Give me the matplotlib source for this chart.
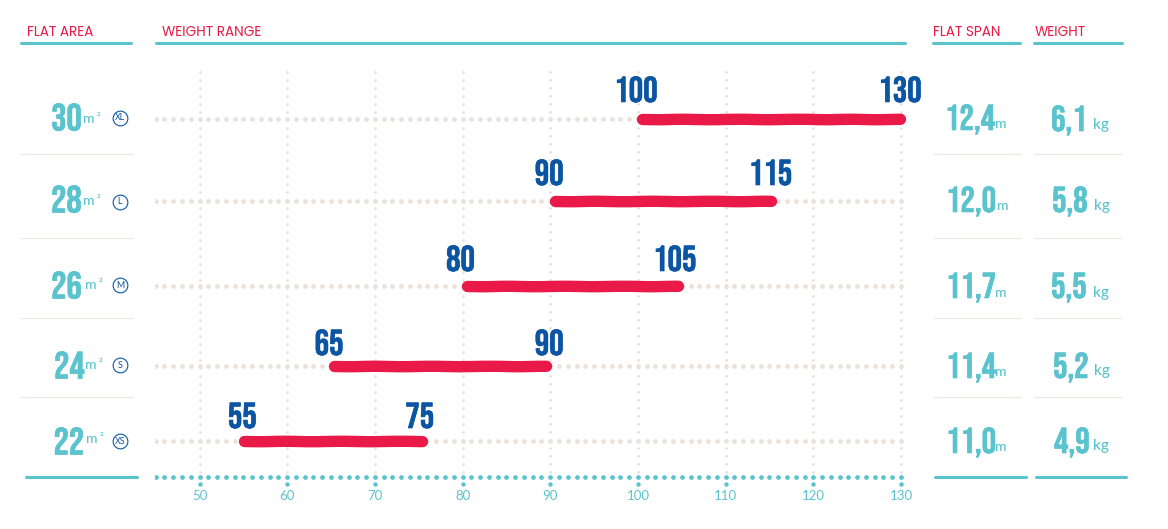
import matplotlib
matplotlib.use("Agg")
import matplotlib.pyplot as plt
import matplotlib.patheffects as pe

# ---- data ----
areas = ["30", "28", "26", "24", "22"]
sizes = ["XL", "L", "M", "S", "XS"]
range_low = [100, 90, 80, 65, 55]
range_high = [130, 115, 105, 90, 75]
spans = ["12,4", "12,0", "11,7", "11,4", "11,0"]
weights = ["6,1", "5,8", "5,5", "5,2", "4,9"]
tick_values = [50, 60, 70, 80, 90, 100, 110, 120, 130]
headers = ["FLAT AREA", "WEIGHT RANGE", "FLAT SPAN", "WEIGHT"]

# ---- layout (pixels) ----
W, H = 1168, 529
row_y = [119, 201, 285.5, 365.5, 441]
label_y = [89, 172, 258, 342, 415]
low_dx = [-2, -1, -2, -2, -1]
high_dx = [-1, 1, -7, -1, 1]
bar_low_dx = [4.5, 5, 4, 2.5, 1]
bar_high_dx = [-1.5, 2, -3.3, -3.8, 2.8]
sep_y = [154, 238, 318, 397]
area_x = [66.5, 66.5, 66.5, 69.5, 69]
area_y = [117, 199, 285, 365, 441]
m2_x = [83, 83, 85, 85, 86]
m2_y = [119, 201, 285, 365, 439]
badge_y = [118, 202, 285, 365, 441]
span_x = [945, 946, 946, 946, 946]
span_y = [117, 199, 285, 365, 440]
m_x = [995, 997, 995, 995, 995]
m_y = [124, 206, 293, 372, 447]
wt_x = [1051, 1052, 1051, 1053, 1054]
wt_y = [118, 199, 285, 365, 440]
kg_x = [1093, 1094, 1093, 1094, 1093]
kg_y = [125, 206, 293, 371, 446]

TEAL = "#5bc3ce"
RED = "#e91a47"
BLUE = "#0b55a3"
DOT = "#e9e1da"
SEP = "#eee9e7"
COND = ["Bebas Neue", "DejaVu Sans"]
SANS = ["Lato", "DejaVu Sans"]
HEAD = ["Poppins", "Lato", "DejaVu Sans"]

fig = plt.figure(figsize=(W / 100, H / 100), dpi=100, facecolor="white")

bg = fig.add_axes([0, 0, 1, 1])
bg.set_xlim(0, W)
bg.set_ylim(H, 0)
bg.axis("off")

ppu = (901 - 199.5) / 80
ax = fig.add_axes([155 / W, 0, (907 - 155) / W, 1])
ax.set_xlim(50 + (155 - 199.5) / ppu, 50 + (907 - 199.5) / ppu)
ax.set_ylim(H, 0)
ax.axis("off")
ax.patch.set_alpha(0)


def rule(x0, x1, y, color=TEAL, lw=2.2, cap="round"):
    bg.plot([x0, x1], [y, y], color=color, lw=lw, solid_capstyle=cap)


def heavy(color, w=0.45):
    return [pe.withStroke(linewidth=w, foreground=color)]


for x0, x1, tx, name in [(21, 131, 27, headers[0]), (156, 905, 162, headers[1]),
                         (933, 1020, 933, headers[2]), (1034, 1122, 1035, headers[3])]:
    rule(x0, x1, 43)
    bg.text(tx, 32, name, color=RED, fontsize=9.8, family=HEAD, va="center", ha="left")

for x0, x1 in [(26, 137), (935, 1026), (1036, 1126)]:
    rule(x0, x1, 477)

for y in sep_y:
    for x0, x1 in [(20, 133), (933, 1021), (1034, 1122)]:
        rule(x0, x1, y, color=SEP, lw=0.9, cap="butt")

for t in tick_values:
    ax.plot([t] * 51, [72 + 8 * i for i in range(51)], ls="none", marker="o", ms=2,
            mec="none", mfc=DOT, zorder=1, clip_on=False)

dot_x = list(range(45, 131))
for y in row_y:
    ax.plot(dot_x, [y] * len(dot_x), ls="none", marker="o", ms=3.4, mec="none", mfc=DOT, zorder=2)

ax.plot(dot_x, [477] * len(dot_x), ls="none", marker="o", ms=3.4, mec="none", mfc=TEAL, zorder=2)
ax.plot(tick_values, [484] * len(tick_values), ls="none", marker="o", ms=3.2, mec="none", mfc=TEAL, zorder=2)
for t in tick_values:
    ax.text(t, 496, str(t), color=TEAL, fontsize=9.5, family=SANS, ha="center", va="center")

for i in range(len(areas)):
    bar, = ax.plot([range_low[i] + bar_low_dx[i] / ppu, range_high[i] + bar_high_dx[i] / ppu],
                   [row_y[i], row_y[i]], color=RED, lw=8.2, solid_capstyle="round", zorder=4)
    bar.set_sketch_params(scale=0.2, length=60, randomness=2)
    ax.annotate(str(range_low[i]), (range_low[i], label_y[i]), xytext=(low_dx[i], 0),
                textcoords="offset pixels", color=BLUE, fontsize=26, family=COND,
                ha="center", va="center_baseline", zorder=5, path_effects=heavy(BLUE))
    ax.annotate(str(range_high[i]), (range_high[i], label_y[i]), xytext=(high_dx[i], 0),
                textcoords="offset pixels", color=BLUE, fontsize=26, family=COND,
                ha="center", va="center_baseline", zorder=5, path_effects=heavy(BLUE))

for i in range(len(areas)):
    bg.text(area_x[i], area_y[i], areas[i], color=TEAL, fontsize=27.5, family=COND,
            ha="center", va="center_baseline", path_effects=heavy(TEAL))
    bg.text(m2_x[i], m2_y[i], "m", color=TEAL, fontsize=10, family=SANS, fontweight="medium",
            ha="left", va="center")
    bg.text(m2_x[i] + 14, m2_y[i] - 5, "2", color=TEAL, fontsize=4.5, family=SANS,
            fontweight="bold", ha="left", va="center")
    bg.plot([120], [badge_y[i]], marker="o", ms=10.6, mfc="white", mec=BLUE, mew=0.8, ls="none")
    bg.text(120, badge_y[i], sizes[i], color=BLUE, fontsize=6.4, family=SANS, ha="center", va="center")
    bg.text(span_x[i], span_y[i], spans[i], color=TEAL, fontsize=26, family=COND,
            ha="left", va="center_baseline", path_effects=heavy(TEAL))
    bg.text(m_x[i], m_y[i], "m", color=TEAL, fontsize=10, family=SANS, fontweight="medium",
            ha="left", va="center")
    bg.text(wt_x[i], wt_y[i], weights[i], color=TEAL, fontsize=26, family=COND,
            ha="left", va="center_baseline", path_effects=heavy(TEAL))
    bg.text(kg_x[i], kg_y[i], "kg", color=TEAL, fontsize=11, family=SANS, fontweight="medium",
            ha="left", va="center")

fig.savefig("out.png", dpi=100)
